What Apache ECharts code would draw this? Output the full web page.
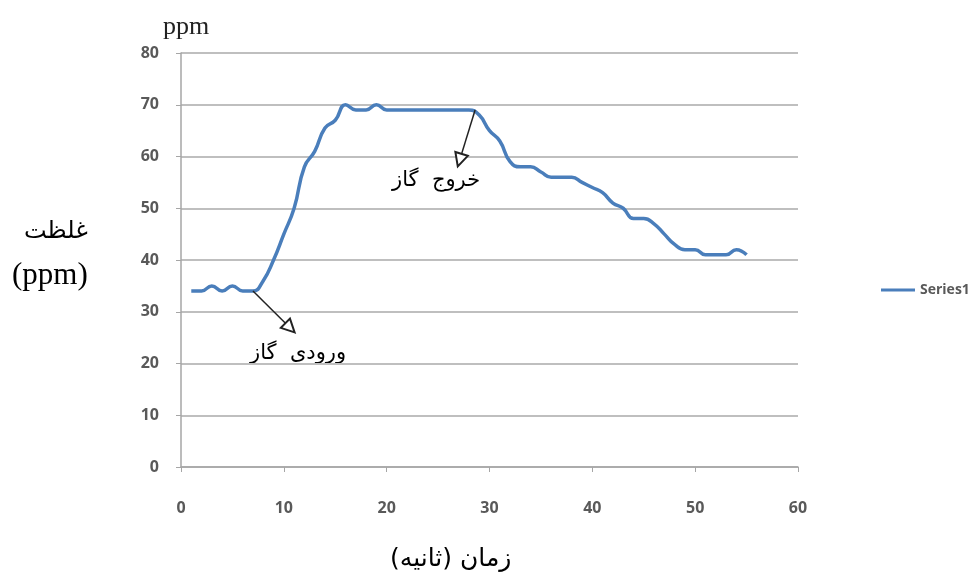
<!DOCTYPE html>
<html>
<head>
<meta charset="utf-8">
<script src="https://cdn.jsdelivr.net/npm/echarts@6/dist/echarts.min.js"></script>
<style>
  html, body { margin: 0; padding: 0; background: #fff; }
  #chart { width: 977px; height: 583px; }
</style>
</head>
<body>
<div id="chart"></div>
<script>
// seconds and concentration readings (ppm)
const seconds = [1, 2, 3, 4, 5, 6, 7, 8, 9, 10, 11, 12, 13, 14, 15, 16, 17, 18, 19, 20,
  21, 22, 23, 24, 25, 26, 27, 28, 29, 30, 31, 32, 33, 34, 35, 36, 37, 38, 39, 40,
  41, 42, 43, 44, 45, 46, 47, 48, 49, 50, 51, 52, 53, 54, 55];
const ppm = [34, 34, 35, 34, 35, 34, 34, 36, 40, 45, 50, 58, 61, 65.5, 67, 70, 69, 69, 70, 69,
  69, 69, 69, 69, 69, 69, 69, 69, 68, 65, 63, 59, 58, 58, 57, 56, 56, 56, 55, 54,
  53, 51, 50, 48, 48, 47, 45, 43, 42, 42, 41, 41, 41, 42, 41];
const xTicks = [0, 10, 20, 30, 40, 50, 60];
const yTicks = [0, 10, 20, 30, 40, 50, 60, 70, 80];

const chart = echarts.init(document.getElementById('chart'));
const axisText = { color: '#595959', fontSize: 16, fontFamily: 'Open Sans, sans-serif', fontWeight: 'bold' };
const arabicFont = 'DejaVu Sans, serif';

chart.setOption({
  backgroundColor: '#fff',
  animation: false,
  grid: { left: 181, right: 179, top: 53, bottom: 116 },
  legend: {
    data: ['Series1'], orient: 'vertical', left: 876, top: 278,
    icon: 'rect', itemWidth: 34, itemHeight: 3, itemGap: 4,
    textStyle: { color: '#595959', fontSize: 14, fontFamily: 'Open Sans, sans-serif', fontWeight: 'bold' }
  },
  xAxis: {
    type: 'value', min: xTicks[0], max: xTicks[xTicks.length - 1], interval: 10,
    axisLine: { lineStyle: { color: '#a6a6a6', width: 1.5 } },
    axisTick: { show: true, length: 5, lineStyle: { color: '#a6a6a6' } },
    axisLabel: Object.assign({ margin: 33 }, axisText),
    splitLine: { show: false }
  },
  yAxis: {
    type: 'value', min: yTicks[0], max: yTicks[yTicks.length - 1], interval: 10,
    axisLine: { show: true, lineStyle: { color: '#a6a6a6', width: 1.5 } },
    axisTick: { show: true, length: 5, lineStyle: { color: '#a6a6a6' } },
    axisLabel: Object.assign({ margin: 22 }, axisText),
    splitLine: { lineStyle: { color: '#bfbfbf', width: 2 } }
  },
  series: [{
    name: 'Series1', type: 'line', smooth: 0.5, symbol: 'none',
    data: seconds.map((s, i) => [s, ppm[i]]),
    lineStyle: { color: '#4a7ebb', width: 3.5 },
    itemStyle: { color: '#4a7ebb' },
    markLine: {
      silent: true, symbol: ['none', 'emptyTriangle'], symbolSize: 13,
      lineStyle: { color: '#222', width: 1.5, type: 'solid' },
      itemStyle: { color: '#222' },
      label: { show: false },
      data: [
        [{ coord: [7, 34] }, { coord: [10.6, 26.9] }],
        [{ coord: [28.6, 69] }, { coord: [27.1, 59.3] }]
      ]
    }
  }],
  graphic: [
    { type: 'text', left: 163, top: 14, style: { text: 'ppm', fontSize: 26, fontFamily: 'Liberation Serif, serif', fill: '#222' } },
    { type: 'text', left: 24, top: 220, style: { text: 'غلظت', fontSize: 24, fontFamily: arabicFont, fill: '#000' } },
    { type: 'text', left: 12, top: 260, style: { text: '(ppm)', fontSize: 31, fontFamily: 'Liberation Serif, serif', fill: '#000' } },
    { type: 'text', left: 390, top: 547, style: { text: 'زمان (ثانیه)', fontSize: 25, fontFamily: arabicFont, fill: '#000' } },
    { type: 'text', left: 250, top: 343, style: { text: 'ورودی  گاز', fontSize: 21, fontFamily: arabicFont, fill: '#000' } },
    { type: 'text', left: 392, top: 170, style: { text: 'خروج  گاز', fontSize: 21, fontFamily: arabicFont, fill: '#000' } }
  ]
});
</script>
</body>
</html>
